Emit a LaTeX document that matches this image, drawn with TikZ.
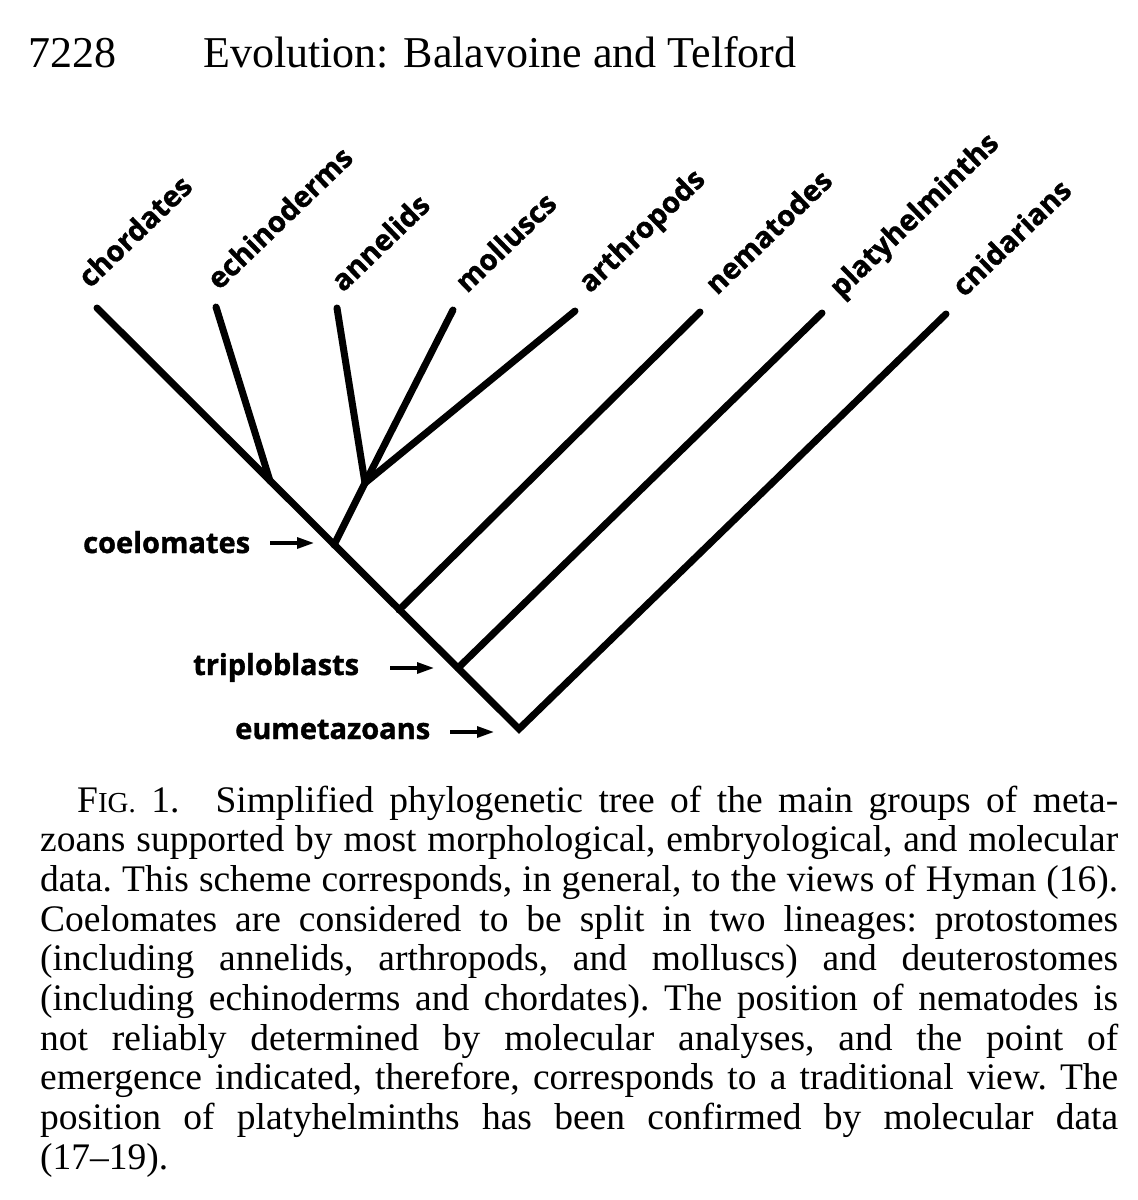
\documentclass[tikz,border=0pt]{standalone}
\usepackage{fontspec}
\setmainfont{Liberation Serif}
\newfontfamily\labfont{Open Sans}[BoldFeatures={FakeBold=1.3}]
\usetikzlibrary{arrows.meta}
\begin{document}
\begin{tikzpicture}[x=1pt,y=-1pt,
  branch/.style={line width=7pt, line cap=round, line join=miter},
  tiplabel/.style={font=\labfont\bfseries\fontsize{29}{34}\selectfont, rotate=44, anchor=base west, inner sep=0pt},
  sidelabel/.style={font=\labfont\bfseries\fontsize{29}{34}\selectfont, anchor=base west, inner sep=0pt},
  pointer/.style={line width=3.2pt, -{Triangle[length=17pt,width=11pt]}},
  headtext/.style={font=\fontsize{44}{50}\selectfont, anchor=base west, inner sep=0pt}
]
\fill[white] (0,0) rectangle (1138,1200);
\useasboundingbox (0,0) rectangle (1138,1200);

% header
\node[headtext] (pg) at (28,67) {7228};
\node[headtext] (ttl) at (203,67) {Evolution: Balavoine and Telford};

% internal nodes
\coordinate (root) at (519,729);
\coordinate (trip) at (458,668);
\coordinate (nema) at (399,610);
\coordinate (coel) at (334,545);
\coordinate (deut) at (270,481);
\coordinate (prot) at (365,483);
% tips
\coordinate (tchor) at (97,308);
\coordinate (tech) at (216,307);
\coordinate (tann) at (337,308);
\coordinate (tmol) at (453,310);
\coordinate (tart) at (575,311);
\coordinate (tnem) at (700,312);
\coordinate (tpla) at (822,313);
\coordinate (tcni) at (946,314);

% branches
\draw[branch] (tchor) -- (root) -- (tcni);
\draw[branch] (deut) -- (tech);
\draw[branch] (coel) -- (prot);
\draw[branch] (prot) -- (tann);
\draw[branch] (prot) -- (tmol);
\draw[branch] (prot) -- (tart);
\draw[branch] (nema) -- (tnem);
\draw[branch] (trip) -- (tpla);

% tip labels
\node[tiplabel] (lchor) at ([shift={(-7,-19)}]tchor) {chordates};
\node[tiplabel] (lech) at ([shift={(3,-16)}]tech) {echinoderms};
\node[tiplabel] (lann) at ([shift={(6,-15)}]tann) {annelids};
\node[tiplabel] (lmol) at ([shift={(14,-16)}]tmol) {molluscs};
\node[tiplabel] (lart) at ([shift={(15,-17)}]tart) {arthropods};
\node[tiplabel] (lnem) at ([shift={(17,-16)}]tnem) {nematodes};
\node[tiplabel] (lpla) at ([shift={(19,-14)}]tpla) {platyhelminths};
\node[tiplabel] (lcni) at ([shift={(18,-16)}]tcni) {cnidarians};

% side labels and pointers
\node[sidelabel] (lcoel) at (83,553) {coelomates};
\node[sidelabel] (ltrip) at (193,675) {triploblasts};
\node[sidelabel] (leum) at (235,739) {eumetazoans};
\coordinate (acoel) at (270,543);
\coordinate (atrip) at (390,668);
\coordinate (aeum) at (450,732);
\draw[pointer] (acoel) -- ([xshift=-20pt]coel |- acoel);
\draw[pointer] (atrip) -- ([xshift=-24pt]trip |- atrip);
\draw[pointer] (aeum) -- ([xshift=-25pt]root |- aeum);

% caption
\node[anchor=base west, inner sep=0pt, font=\fontsize{37.5}{39.7}\selectfont] (cap) at (40,812)
 {\parbox[t]{1078pt}{\frenchspacing\tolerance=10000\hyphenpenalty=10000\pretolerance=-1\noindent\hspace*{37pt}F{\fontsize{29}{39.7}\selectfont IG.} 1.\hspace{36pt}Simplified phylogenetic tree of the main groups of meta-\linebreak
zoans supported by most morphological, embryological, and molecular\linebreak
data. This scheme corresponds, in general, to the views of Hyman (16).\linebreak
Coelomates are considered to be split in two lineages: protostomes\linebreak
(including annelids, arthropods, and molluscs) and deuterostomes\linebreak
(including echinoderms and chordates). The position of nematodes is\linebreak
not reliably determined by molecular analyses, and the point of\linebreak
emergence indicated, therefore, corresponds to a traditional view. The\linebreak
position of platyhelminths has been confirmed by molecular data\linebreak
(17--19).\par}};
\end{tikzpicture}
\end{document}
